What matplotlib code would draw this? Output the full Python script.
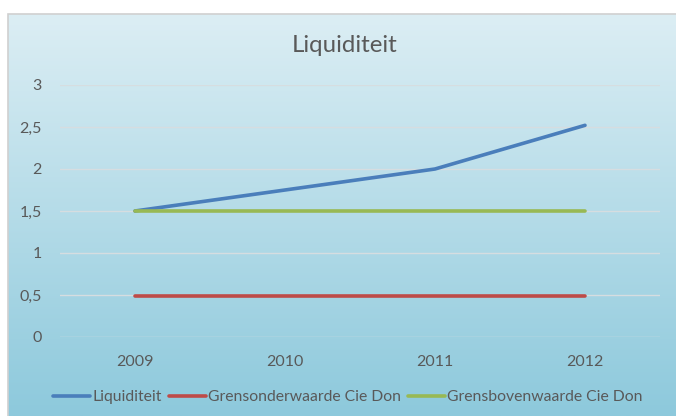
import numpy as np
import matplotlib.pyplot as plt
from matplotlib.patches import Rectangle

# Data
years = ["2009", "2010", "2011", "2012"]
liquiditeit = [1.5, 1.75, 2.0, 2.52]
grens_onder = [0.49, 0.49, 0.49, 0.49]
grens_boven = [1.5, 1.5, 1.5, 1.5]
y_ticks = [0, 0.5, 1, 1.5, 2, 2.5, 3]
y_labels = ["0", "0,5", "1", "1,5", "2", "2,5", "3"]

plt.rcParams['font.family'] = ['Lato', 'DejaVu Sans']

W, H = 676, 416
fig = plt.figure(figsize=(W / 100, H / 100), dpi=100)
fig.patch.set_facecolor("white")

# gradient chart area background
bg = fig.add_axes([8 / W, 0, 1 - 8 / W, 1 - 14 / H], zorder=0)
top = np.array([0xdc, 0xee, 0xf4]) / 255
bot = np.array([0x8d, 0xc9, 0xdc]) / 255
t = np.linspace(0, 1, 256)[:, None]
grad = (top[None, :] * (1 - t) + bot[None, :] * t)[:, None, :]
bg.imshow(grad, aspect="auto", extent=[0, 1, 0, 1])
bg.set_xlim(0, 1)
bg.set_ylim(0, 1)
bg.axis("off")
fig.add_artist(Rectangle((8 / W, -0.01), 1.0, 1.01 - 14 / H, transform=fig.transFigure,
                         fill=False, edgecolor="#d0d0d0", linewidth=1.2, zorder=1))

ax = fig.add_axes([60 / W, 1 - 337 / H, 600 / W, 252 / H], zorder=2)
ax.patch.set_alpha(0)
x = np.arange(len(years))
ax.plot(x, liquiditeit, color="#4a7ebb", lw=2.6, label="Liquiditeit", solid_capstyle="round")
ax.plot(x, grens_onder, color="#be4b48", lw=2.6, label="Grensonderwaarde Cie Don", solid_capstyle="round")
ax.plot(x, grens_boven, color="#98b954", lw=2.6, label="Grensbovenwaarde Cie Don", solid_capstyle="round")

ax.set_xlim(-0.5, 3.5)
ax.set_ylim(0, 3)
ax.set_yticks(y_ticks)
ax.set_yticklabels(y_labels)
ax.set_xticks(x)
ax.set_xticklabels(years)
ax.grid(axis="y", color="#d6dde0", lw=1)
ax.set_axisbelow(True)
for s in ax.spines.values():
    s.set_visible(False)
ax.tick_params(length=0, colors="#595959", labelsize=11.5)
ax.tick_params(axis="y", pad=13)
ax.tick_params(axis="x", pad=13)

fig.text(345 / W, 1 - 46 / H, "Liquiditeit", ha="center", va="center", fontsize=17.3, color="#595959")

fig.legend(loc="center", bbox_to_anchor=(348 / W, 1 - 397 / H), ncol=3, frameon=False,
           fontsize=11.3, handlelength=2.35, handletextpad=0.15, columnspacing=0.45,
           labelcolor="#595959")

fig.savefig("out.png", dpi=100)
